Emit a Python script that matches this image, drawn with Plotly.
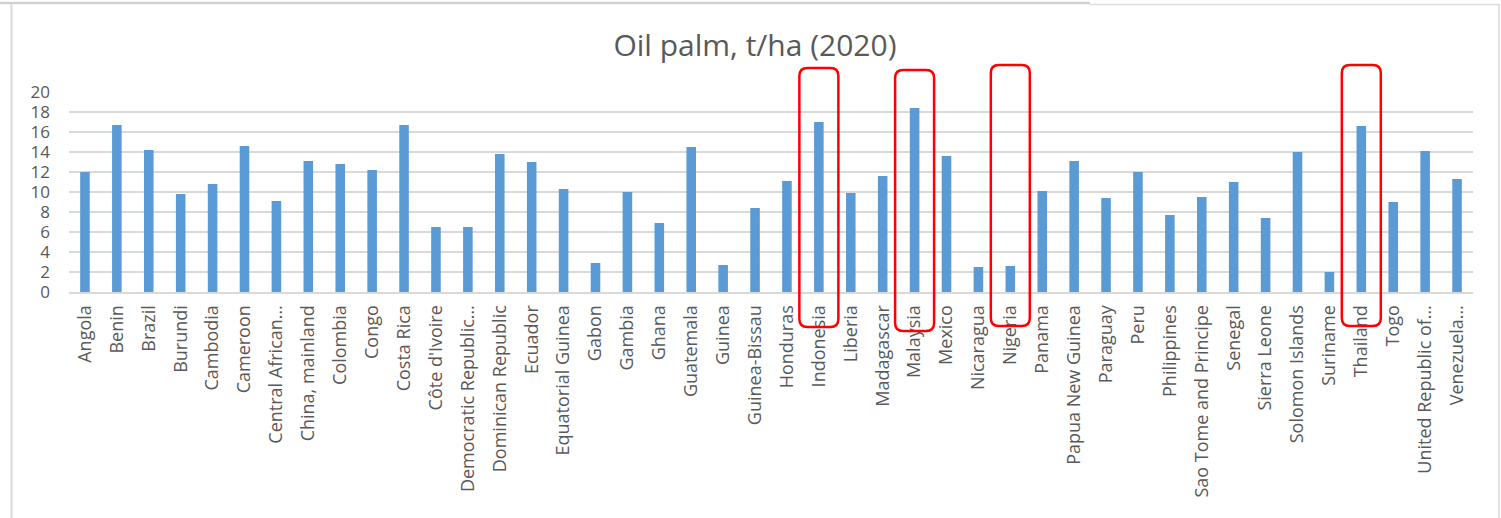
import plotly.graph_objects as go

# Oil palm yield by country, tonnes per hectare, 2020
countries = [
    "Angola", "Benin", "Brazil", "Burundi", "Cambodia", "Cameroon",
    "Central African…", "China, mainland", "Colombia", "Congo", "Costa Rica",
    "Côte d'Ivoire", "Democratic Republic…", "Dominican Republic", "Ecuador",
    "Equatorial Guinea", "Gabon", "Gambia", "Ghana", "Guatemala", "Guinea",
    "Guinea-Bissau", "Honduras", "Indonesia", "Liberia", "Madagascar",
    "Malaysia", "Mexico", "Nicaragua", "Nigeria", "Panama",
    "Papua New Guinea", "Paraguay", "Peru", "Philippines",
    "Sao Tome and Principe", "Senegal", "Sierra Leone", "Solomon Islands",
    "Suriname", "Thailand", "Togo", "United Republic of…", "Venezuela…",
]
yields = [
    12.0, 16.7, 14.2, 9.8, 10.8, 14.6,
    9.1, 13.1, 12.8, 12.2, 16.7,
    6.5, 6.5, 13.8, 13.0,
    10.3, 2.9, 10.0, 6.9, 14.5, 2.7,
    8.4, 11.1, 17.0, 9.9, 11.6,
    18.4, 13.6, 2.5, 2.6, 10.1,
    13.1, 9.4, 12.0, 7.7,
    9.5, 11.0, 7.4, 14.0,
    2.0, 16.6, 9.0, 14.1, 11.3,
]
highlighted = ["Indonesia", "Malaysia", "Nigeria", "Thailand"]
y_ticks = [0, 2, 4, 6, 8, 10, 12, 14, 16, 18, 20]

W, H = 1501, 518
ML, MR, MT, MB = 69, 28, 92, 226
PW, PH = W - ML - MR, H - MT - MB

TEXT = "#595959"
GRID = "#D9D9D9"
BAR = "#5B9BD5"
FONT = "Open Sans, Noto Sans, sans-serif"

fig = go.Figure(
    go.Bar(
        x=countries,
        y=yields,
        marker=dict(color=BAR, line=dict(width=0)),
        hoverinfo="x+y",
    )
)


def px_x(px):
    return (px - ML) / PW


def px_y(py):
    return (H - MB - py) / PH


shapes = []

# window frame around the chart object
shapes.append(dict(type="line", xref="paper", yref="paper",
                   x0=px_x(0), x1=px_x(1090), y0=px_y(3), y1=px_y(3),
                   line=dict(color="#D2D2D2", width=2.5), layer="above"))
shapes.append(dict(type="line", xref="paper", yref="paper",
                   x0=px_x(1090), x1=px_x(1499), y0=px_y(4.5), y1=px_y(4.5),
                   line=dict(color="#DDDDDD", width=1.5), layer="above"))
shapes.append(dict(type="line", xref="paper", yref="paper",
                   x0=px_x(11.5), x1=px_x(11.5), y0=px_y(4), y1=px_y(520),
                   line=dict(color="#D9D9D9", width=2), layer="above"))
shapes.append(dict(type="line", xref="paper", yref="paper",
                   x0=px_x(1499), x1=px_x(1499), y0=px_y(4), y1=px_y(520),
                   line=dict(color="#D9D9D9", width=1.5), layer="above"))

# rounded red outlines around the highlighted countries
box_extent = {"Indonesia": (68, 327), "Malaysia": (70, 331),
              "Nigeria": (65, 326), "Thailand": (65, 326)}
n = len(countries)
half_w = 19.5
r = 8
for name in highlighted:
    i = countries.index(name)
    cx = ML + (i + 0.5) * PW / n
    top, bot = box_extent[name]
    l, rt = cx - half_w, cx + half_w
    pts = [
        f"M {px_x(l + r)},{px_y(top)}",
        f"L {px_x(rt - r)},{px_y(top)}",
        f"Q {px_x(rt)},{px_y(top)} {px_x(rt)},{px_y(top + r)}",
        f"L {px_x(rt)},{px_y(bot - r)}",
        f"Q {px_x(rt)},{px_y(bot)} {px_x(rt - r)},{px_y(bot)}",
        f"L {px_x(l + r)},{px_y(bot)}",
        f"Q {px_x(l)},{px_y(bot)} {px_x(l)},{px_y(bot - r)}",
        f"L {px_x(l)},{px_y(top + r)}",
        f"Q {px_x(l)},{px_y(top)} {px_x(l + r)},{px_y(top)}",
        "Z",
    ]
    shapes.append(dict(type="path", xref="paper", yref="paper",
                       path=" ".join(pts),
                       line=dict(color="#FF0000", width=2.5),
                       layer="above"))

fig.update_layout(
    width=W,
    height=H,
    margin=dict(l=ML, r=MR, t=MT, b=MB, pad=0),
    paper_bgcolor="white",
    plot_bgcolor="white",
    showlegend=False,
    bargap=0.7,
    font=dict(family=FONT, color=TEXT),
    title=dict(
        text="Oil palm, t/ha (2020)",
        x=755 / W, xref="container", xanchor="center",
        y=1 - 45 / H, yref="container", yanchor="middle",
        font=dict(family=FONT, size=30, color=TEXT),
    ),
    xaxis=dict(
        type="category",
        tickangle=-90,
        tickfont=dict(family=FONT, size=18, color=TEXT),
        showgrid=False,
        showline=True,
        linecolor=GRID,
        linewidth=2,
        ticks="",
        ticklabelstandoff=4,
        range=[-0.5, n - 0.5],
    ),
    yaxis=dict(
        range=[0, 20],
        tickvals=y_ticks,
        tickfont=dict(family=FONT, size=17, color=TEXT),
        showgrid=True,
        gridcolor=GRID,
        gridwidth=2,
        zeroline=False,
        showline=False,
        ticks="",
        ticklabelstandoff=18,
    ),
    shapes=shapes,
)

fig.write_html("out.html", config={"displayModeBar": False})
